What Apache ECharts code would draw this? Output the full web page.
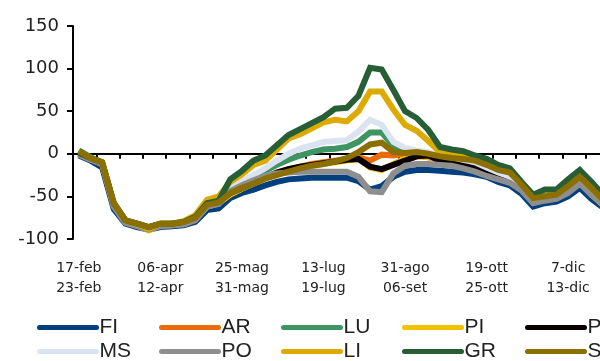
<!DOCTYPE html>
<html>
<head>
<meta charset="utf-8">
<script src="https://cdn.jsdelivr.net/npm/echarts@6/dist/echarts.min.js"></script>
<style>
html,body{margin:0;padding:0;background:#fff;overflow:hidden;width:600px;height:361px;}
#c{width:700px;height:361px;}
</style>
</head>
<body>
<div id="c"></div>
<script>
const categories = [
"17-feb\n23-feb","24-feb\n01-mar","02-mar\n08-mar","09-mar\n15-mar","16-mar\n22-mar","23-mar\n29-mar","30-mar\n05-apr",
"06-apr\n12-apr","13-apr\n19-apr","20-apr\n26-apr","27-apr\n03-mag","04-mag\n10-mag","11-mag\n17-mag","18-mag\n24-mag",
"25-mag\n31-mag","01-giu\n07-giu","08-giu\n14-giu","15-giu\n21-giu","22-giu\n28-giu","29-giu\n05-lug","06-lug\n12-lug",
"13-lug\n19-lug","20-lug\n26-lug","27-lug\n02-ago","03-ago\n09-ago","10-ago\n16-ago","17-ago\n23-ago","24-ago\n30-ago",
"31-ago\n06-set","07-set\n13-set","14-set\n20-set","21-set\n27-set","28-set\n04-ott","05-ott\n11-ott","12-ott\n18-ott",
"19-ott\n25-ott","26-ott\n01-nov","02-nov\n08-nov","09-nov\n15-nov","16-nov\n22-nov","23-nov\n29-nov","30-nov\n06-dic",
"7-dic\n13-dic","14-dic\n20-dic","21-dic\n27-dic","28-dic\n03-gen"
];
const yTicks = [-100, -50, 0, 50, 100, 150];

const FI = [-2,-8,-16,-65,-82,-86,-89,-86,-85,-84,-80,-66,-64,
  -52,-46,-42,-37,-33,-30,-29,-28,-28,-28,-28,-32,-42,-38,-27,-21,-19,-19,-20,-21,-22,-24,-27,-33,-37,-47,-62,-58,-56,-50,-40,-53,-63];
const AR = [0,-6,-12,-61,-80,-84,-88,-84,-83,-82,-77,-61,-57,
  -46,-40,-34,-28,-22,-18,-15,-12,-10,-8,-6,-4,-8,-1,-2,0,-2,-4,-8,-10,-12,-15,-19,-25,-30,-40,-56,-53,-51,-44,-33,-46,-58];
const LU = [4,-4,-10,-58,-78,-82,-86,-82,-82,-80,-75,-58,-56,
  -45,-36,-28,-20,-13,-7,-2,2,5,6,8,14,25,25,9,2,0,-1,-3,-5,-8,-11,-16,-22,-26,-38,-54,-51,-49,-41,-30,-43,-56];
const PI = [0,-6,-12,-60,-80,-84,-90,-84,-84,-82,-77,-62,-58,
  -48,-41,-35,-29,-24,-20,-17,-14,-12,-10,-8,-6,-16,-19,-12,-6,-3,-4,-7,-9,-11,-14,-18,-25,-30,-40,-57,-54,-52,-44,-34,-48,-60];
const PT = [0,-6,-11,-60,-80,-84,-88,-84,-83,-82,-77,-61,-57,
  -46,-40,-34,-28,-22,-18,-15,-13,-11,-9,-7,-6,-15,-18,-13,-8,-3,-2,-8,-10,-12,-15,-19,-25,-30,-40,-56,-53,-51,-44,-33,-46,-58];
const MS = [1,-5,-11,-59,-79,-83,-87,-83,-83,-81,-76,-60,-56,
  -40,-32,-25,-17,-8,0,6,10,14,15,16,26,40,34,14,7,4,2,-2,-4,-7,-10,-16,-22,-27,-38,-55,-52,-50,-42,-32,-45,-57];
const PO = [-1,-7,-12,-62,-81,-85,-89,-85,-84,-83,-78,-62,-59,
  -44,-37,-31,-26,-23,-22,-21,-21,-21,-21,-21,-27,-44,-45,-23,-14,-12,-12,-13,-14,-17,-21,-26,-30,-34,-43,-58,-55,-53,-46,-35,-48,-59];
const LI = [1,-5,-10,-58,-78,-83,-88,-82,-82,-79,-72,-54,-50,
  -33,-24,-13,-8,5,18,23,30,37,40,38,50,73,73,52,34,27,15,2,0,-2,-5,-10,-16,-20,-35,-52,-49,-47,-37,-26,-40,-54];
const GR = [1,-5,-10,-58,-78,-82,-86,-82,-82,-80,-74,-58,-55,
  -30,-20,-8,-2,10,22,29,36,43,53,54,68,101,99,75,50,42,28,8,5,3,-2,-6,-13,-17,-33,-48,-42,-42,-30,-19,-33,-48];
const SI = [3,-5,-10,-58,-78,-82,-86,-82,-82,-80,-75,-60,-57,
  -46,-40,-35,-29,-25,-21,-17,-14,-12,-9,-5,2,11,13,2,1,2,0,-3,-5,-6,-8,-13,-19,-22,-36,-52,-50,-48,-38,-27,-40,-54];

const seriesNames = ["FI","AR","LU","PI","PT","MS","PO","LI","GR","SI"];
const seriesData = [FI,AR,LU,PI,PT,MS,PO,LI,GR,SI];
const colors = ["#023F7F","#EA6A0C","#3E9462","#F2C200","#0A0000","#DAE3EF","#8E8E8E","#DDAB00","#275E36","#8B6F00"];

const legendCols = [37, 159, 281, 402, 525];
const legendRows = [317, 341];

const chart = echarts.init(document.getElementById('c'), null, {renderer:'canvas'});
const legends = seriesNames.map((n,i)=>({
  orient:'horizontal', left:legendCols[i%5], top:legendRows[Math.floor(i/5)],
  itemWidth:57, itemHeight:20, itemGap:0, padding:0,
  lineStyle:{width:5, cap:'round'},
  itemStyle:{opacity:0},
  textStyle:{fontFamily:'Liberation Sans', fontSize:21, color:'#222', padding:[0,0,0,-2]},
  selectedMode:false, data:[n]
}));
chart.setOption({
  animation:false,
  color: colors,
  grid:{left:73, top:26, width:46*11.65, height:213, containLabel:false},
  legend: legends,
  xAxis:[
    {type:'category', data:categories, boundaryGap:true, position:'bottom',
     axisLine:{onZero:true, lineStyle:{color:'#000', width:2}},
     axisTick:{show:true, interval:1, length:5, lineStyle:{color:'#000', width:2}},
     axisLabel:{show:false}, splitLine:{show:false}},
    {type:'category', data:categories, boundaryGap:true, position:'bottom',
     axisLine:{show:false, onZero:false}, axisTick:{show:false},
     axisLabel:{show:true, interval:6, margin:19, fontFamily:'DejaVu Sans', fontSize:14, lineHeight:20, color:'#222'},
     splitLine:{show:false}}
  ],
  yAxis:{type:'value', min:yTicks[0], max:yTicks[yTicks.length-1], interval:50,
    axisLine:{show:true, lineStyle:{color:'#000', width:2}},
    axisTick:{show:true, length:6, lineStyle:{color:'#000', width:2}},
    axisLabel:{margin:14, fontFamily:'DejaVu Sans', fontSize:18, color:'#222'},
    splitLine:{show:false}},
  series: seriesNames.map((n,i)=>({
    name:n, type:'line', xAxisIndex:0, data:seriesData[i], symbol:'none', smooth:false,
    lineStyle:{width:6, color:colors[i], join:'miter'}, itemStyle:{color:colors[i]}
  }))
});
</script>
</body>
</html>
